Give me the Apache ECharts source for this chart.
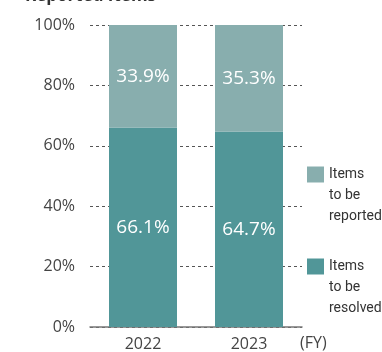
<!DOCTYPE html>
<html><head><meta charset="utf-8">
<script src="https://cdn.jsdelivr.net/npm/echarts@6/dist/echarts.min.js"></script>
<style>html,body{margin:0;padding:0;background:#fff}#c{width:382px;height:352px}</style>
</head><body><div id="c"></div>
<script>
const categories = ['2022', '2023'];
const resolvedValues = [66.1, 64.7];
const reportedValues = [33.9, 35.3];
const seriesNames = ['Items to be reported', 'Items to be resolved*1'];
const legendLabels = ['Items\nto be\nreported', 'Items\nto be\nresolved*1'];
const yTicks = [0, 20, 40, 60, 80, 100];
const titleText = 'Reported Items';
const xAxisName = '(FY)';

const FONT = "'Open Sans', sans-serif";
const LFONT = "Roboto, 'Open Sans', sans-serif";
const chart = echarts.init(document.getElementById('c'), null, {renderer: 'canvas'});
const labelFmt = p => p.value.toFixed(1) + '%';
function legendFor(i, top) {
  return {
    data: [seriesNames[i]], left: 307, top: top, padding: 0,
    orient: 'vertical', itemWidth: 17, itemHeight: 16, icon: 'rect',
    formatter: () => '\n\n' + legendLabels[i], selectedMode: false,
    textStyle: {fontFamily: LFONT, fontSize: 14, color: '#333', lineHeight: 21}
  };
}
chart.setOption({
  animation: false,
  title: {text: titleText, left: 20, top: -17, textStyle: {fontFamily: FONT, fontSize: 17, fontWeight: 'bold', color: '#333'}},
  grid: {left: 90, right: 80, top: 25, bottom: 25, containLabel: false},
  legend: [legendFor(0, 122), legendFor(1, 214)],
  xAxis: {
    type: 'category', data: categories,
    name: xAxisName, nameLocation: 'end', nameGap: -2,
    nameTextStyle: {fontFamily: FONT, fontSize: 16, color: '#444', align: 'left', verticalAlign: 'top', padding: [8, 0, 0, 0]},
    axisLine: {lineStyle: {color: '#777', width: 1.5}},
    axisTick: {show: false},
    axisLabel: {fontFamily: FONT, fontSize: 16, color: '#444', margin: 9}
  },
  yAxis: {
    type: 'value', min: yTicks[0], max: yTicks[yTicks.length - 1], interval: 20,
    axisLine: {show: false}, axisTick: {show: false},
    axisLabel: {fontFamily: FONT, fontSize: 16, color: '#444', margin: 15, formatter: v => v + '%'},
    splitLine: {lineStyle: {color: '#555', type: [3, 3], width: 1}}
  },
  series: [
    {
      name: seriesNames[1], type: 'bar', stack: 's', data: resolvedValues, barWidth: 68,
      itemStyle: {color: '#519698'},
      label: {show: true, position: 'inside', formatter: labelFmt, color: '#fff', fontFamily: FONT, fontSize: 19}
    },
    {
      name: seriesNames[0], type: 'bar', stack: 's', data: reportedValues, barWidth: 68,
      itemStyle: {color: '#88aeae'},
      label: {show: true, position: 'inside', formatter: labelFmt, color: '#fff', fontFamily: FONT, fontSize: 19}
    }
  ]
});
</script></body></html>
